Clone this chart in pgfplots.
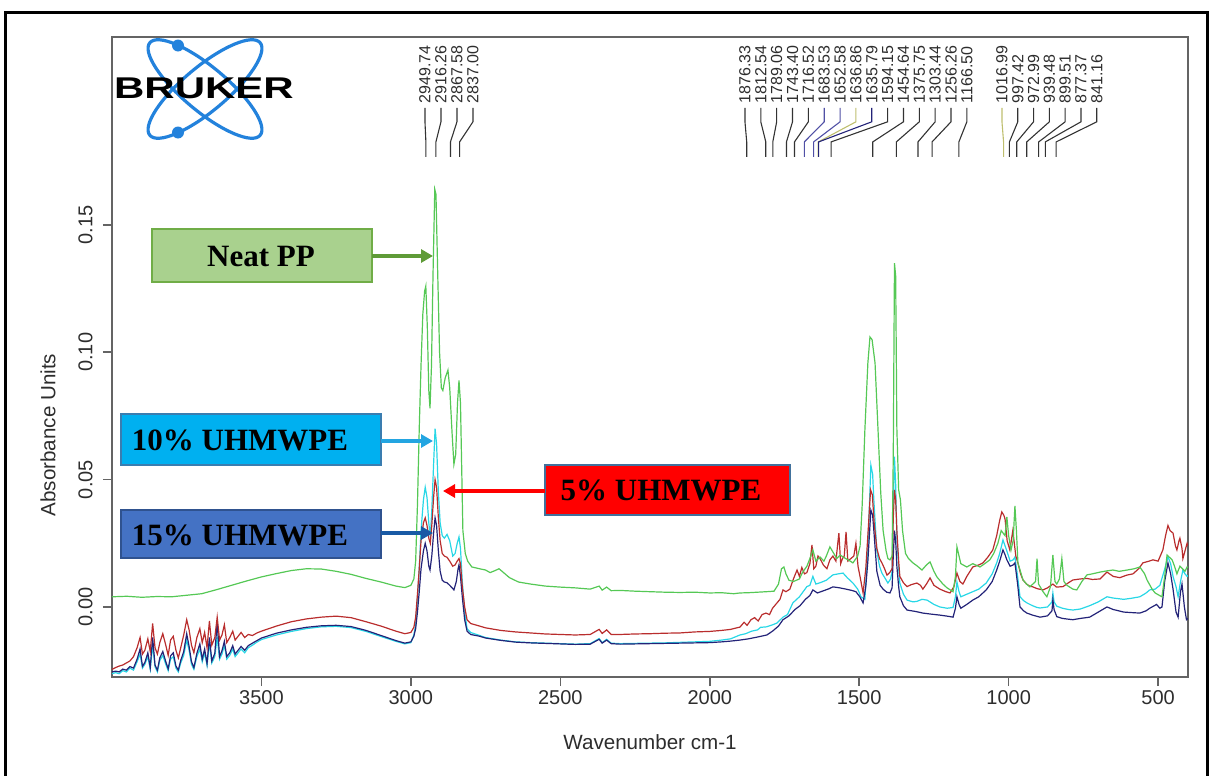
\documentclass[border=0pt]{standalone}
\usepackage{pgfplots}
\pgfplotsset{compat=1.18}
\usepackage{pgfplotstable}
\usetikzlibrary{arrows.meta}
\usepackage{fontspec}
\setmainfont{Liberation Sans}
\newfontfamily\serifbf{Liberation Serif}
\definecolor{cgreen}{RGB}{85,200,85}
\definecolor{cred}{RGB}{185,45,45}
\definecolor{ccyan}{RGB}{40,215,230}
\definecolor{cnavy}{RGB}{35,35,120}
\definecolor{axgray}{RGB}{100,100,100}
\definecolor{txtgray}{RGB}{45,45,45}
\definecolor{pkblue}{RGB}{80,80,165}
\definecolor{pkolive}{RGB}{190,190,110}
\definecolor{ppfill}{HTML}{A9D18E}
\definecolor{ppdraw}{HTML}{70AD47}
\definecolor{pparrow}{RGB}{95,155,55}
\definecolor{tenfill}{HTML}{00B0F0}
\definecolor{tendraw}{HTML}{3A7DB0}
\definecolor{tenarrow}{RGB}{35,165,225}
\definecolor{fiffill}{HTML}{4472C4}
\definecolor{fifdraw}{HTML}{2F528F}
\definecolor{fifarrow}{RGB}{25,90,165}
\definecolor{fivedraw}{HTML}{41719C}
\definecolor{logoblue}{RGB}{35,130,220}

\pgfplotstableread{
w a
4000 -0.0245
3988 -0.0238
3976 -0.0232
3964 -0.0228
3952 -0.0220
3940 -0.0212
3928 -0.0195
3916 -0.0160
3906 -0.0120
3898 -0.0185
3890 -0.0170
3880 -0.0125
3872 -0.0175
3864 -0.0065
3856 -0.0160
3848 -0.0185
3840 -0.0140
3830 -0.0105
3820 -0.0150
3812 -0.0190
3804 -0.0130
3795 -0.0115
3786 -0.0170
3778 -0.0200
3770 -0.0160
3760 -0.0110
3750 -0.0050
3742 -0.0090
3734 -0.0150
3726 -0.0180
3716 -0.0120
3706 -0.0085
3698 -0.0140
3690 -0.0100
3682 -0.0160
3674 -0.0055
3666 -0.0150
3656 -0.0120
3648 -0.0040
3640 -0.0130
3632 -0.0110
3624 -0.0070
3616 -0.0140
3606 -0.0120
3596 -0.0095
3588 -0.0130
3578 -0.0115
3568 -0.0100
3556 -0.0120
3544 -0.0108
3530 -0.0112
3515 -0.0102
3500 -0.0095
3450 -0.0075
3400 -0.0058
3350 -0.0047
3300 -0.0040
3250 -0.0036
3200 -0.0042
3150 -0.0058
3100 -0.0075
3050 -0.0095
3020 -0.0105
3000 -0.0100
2990 -0.0080
2984 -0.0040
2978 0.0050
2972 0.0150
2966 0.0260
2958 0.0330
2952 0.0350
2946 0.0320
2940 0.0270
2935 0.0250
2930 0.0320
2924 0.0430
2919 0.0500
2914 0.0470
2908 0.0350
2902 0.0260
2895 0.0210
2888 0.0200
2879 0.0195
2870 0.0180
2860 0.0160
2852 0.0165
2845 0.0180
2839 0.0190
2834 0.0170
2828 0.0080
2820 0.0000
2812 -0.0050
2800 -0.0065
2770 -0.0075
2750 -0.0082
2720 -0.0088
2700 -0.0092
2650 -0.0098
2600 -0.0102
2550 -0.0106
2500 -0.0108
2450 -0.0110
2400 -0.0108
2370 -0.0088
2360 -0.0104
2345 -0.0090
2330 -0.0108
2300 -0.0108
2250 -0.0106
2200 -0.0105
2150 -0.0103
2100 -0.0102
2050 -0.0098
2000 -0.0096
1960 -0.0092
1930 -0.0088
1910 -0.0082
1899 -0.0079
1885 -0.0060
1875 -0.0072
1862 -0.0050
1850 -0.0042
1838 -0.0055
1825 -0.0030
1812 -0.0024
1800 -0.0030
1790 -0.0005
1775 0.0016
1765 0.0030
1755 0.0067
1745 0.0060
1732 0.0070
1720 0.0110
1708 0.0145
1700 0.0120
1692 0.0155
1683 0.0130
1675 0.0135
1665 0.0170
1658 0.0244
1652 0.0150
1645 0.0160
1638 0.0200
1631 0.0190
1620 0.0165
1608 0.0150
1598 0.0185
1588 0.0200
1578 0.0180
1568 0.0290
1562 0.0170
1556 0.0190
1550 0.0200
1544 0.0295
1538 0.0180
1528 0.0190
1518 0.0200
1511 0.0250
1504 0.0160
1497 0.0118
1487 0.0055
1478 0.0150
1470 0.0300
1462 0.0460
1456 0.0440
1450 0.0330
1441 0.0230
1432 0.0190
1424 0.0173
1415 0.0150
1407 0.0125
1398 0.0135
1390 0.0150
1386 0.0350
1382 0.0460
1378 0.0420
1374 0.0300
1368 0.0180
1364 0.0120
1352 0.0095
1340 0.0080
1325 0.0088
1307 0.0094
1295 0.0085
1287 0.0070
1275 0.0090
1263 0.0114
1250 0.0085
1230 0.0070
1210 0.0060
1196 0.0055
1183 0.0080
1173 0.0133
1163 0.0100
1153 0.0090
1140 0.0120
1120 0.0157
1100 0.0165
1086 0.0173
1070 0.0195
1053 0.0224
1040 0.0280
1030 0.0340
1023 0.0373
1016 0.0360
1012 0.0345
1005 0.0260
996 0.0224
986 0.0300
976 0.0200
969 0.0173
960 0.0130
952 0.0106
940 0.0090
930 0.0082
919 0.0079
905 0.0072
885 0.0067
870 0.0075
852 0.0090
840 0.0078
818 0.0080
800 0.0095
785 0.0106
760 0.0110
738 0.0112
720 0.0108
694 0.0110
671 0.0137
650 0.0120
628 0.0115
605 0.0125
584 0.0130
565 0.0150
551 0.0173
530 0.0180
517 0.0185
500 0.0180
484 0.0224
475 0.0280
467 0.0320
460 0.0300
450 0.0290
442 0.0240
437 0.0224
430 0.0260
427 0.0270
420 0.0230
417 0.0190
410 0.0220
403 0.0250
400 0.0240
}\tabred

\pgfplotstableread{
w a
4000 -0.0262
3988 -0.0258
3976 -0.0262
3964 -0.0250
3952 -0.0255
3940 -0.0240
3928 -0.0248
3916 -0.0215
3906 -0.0185
3898 -0.0240
3890 -0.0225
3880 -0.0195
3872 -0.0245
3864 -0.0150
3856 -0.0235
3848 -0.0255
3840 -0.0210
3830 -0.0190
3820 -0.0225
3812 -0.0250
3804 -0.0205
3795 -0.0195
3786 -0.0240
3778 -0.0255
3770 -0.0220
3760 -0.0190
3750 -0.0130
3742 -0.0170
3734 -0.0225
3726 -0.0245
3716 -0.0195
3706 -0.0165
3698 -0.0215
3690 -0.0180
3682 -0.0230
3674 -0.0140
3666 -0.0220
3656 -0.0195
3648 -0.0120
3640 -0.0205
3632 -0.0185
3624 -0.0150
3616 -0.0205
3606 -0.0190
3596 -0.0165
3588 -0.0195
3578 -0.0180
3568 -0.0165
3556 -0.0180
3544 -0.0160
3530 -0.0150
3515 -0.0138
3500 -0.0128
3450 -0.0110
3400 -0.0096
3350 -0.0085
3300 -0.0078
3250 -0.0076
3200 -0.0081
3150 -0.0096
3100 -0.0116
3050 -0.0135
3020 -0.0145
3000 -0.0140
2990 -0.0110
2984 -0.0070
2978 0.0030
2972 0.0150
2966 0.0300
2958 0.0420
2952 0.0470
2946 0.0430
2940 0.0330
2935 0.0275
2930 0.0380
2924 0.0560
2919 0.0700
2914 0.0640
2908 0.0450
2902 0.0330
2895 0.0280
2888 0.0270
2879 0.0285
2870 0.0260
2860 0.0200
2852 0.0210
2845 0.0250
2839 0.0275
2834 0.0230
2828 0.0100
2820 -0.0020
2812 -0.0085
2800 -0.0100
2770 -0.0112
2750 -0.0120
2700 -0.0130
2650 -0.0137
2600 -0.0140
2550 -0.0142
2500 -0.0144
2450 -0.0146
2400 -0.0144
2370 -0.0124
2360 -0.0140
2345 -0.0127
2330 -0.0142
2300 -0.0144
2250 -0.0143
2200 -0.0142
2150 -0.0141
2100 -0.0139
2050 -0.0137
2000 -0.0135
1960 -0.0130
1930 -0.0125
1899 -0.0110
1880 -0.0105
1860 -0.0095
1840 -0.0090
1830 -0.0080
1810 -0.0078
1790 -0.0070
1775 -0.0063
1755 -0.0040
1740 -0.0030
1722 0.0016
1700 0.0040
1675 0.0080
1665 0.0085
1655 0.0120
1645 0.0090
1631 0.0095
1610 0.0105
1588 0.0126
1570 0.0130
1554 0.0133
1540 0.0115
1521 0.0094
1505 0.0070
1494 0.0040
1481 0.0030
1471 0.0230
1461 0.0557
1455 0.0520
1451 0.0420
1441 0.0220
1432 0.0160
1424 0.0133
1412 0.0110
1404 0.0094
1395 0.0110
1390 0.0140
1386 0.0400
1382 0.0590
1378 0.0480
1374 0.0280
1368 0.0150
1364 0.0094
1352 0.0050
1340 0.0027
1320 0.0020
1307 0.0022
1290 0.0030
1273 0.0027
1250 0.0010
1230 0.0000
1206 -0.0005
1186 -0.0002
1178 0.0040
1173 0.0098
1166 0.0060
1160 0.0040
1140 0.0050
1120 0.0060
1100 0.0070
1075 0.0094
1055 0.0130
1040 0.0173
1030 0.0210
1019 0.0263
1012 0.0240
1006 0.0220
995 0.0180
985 0.0185
979 0.0196
970 0.0120
962 0.0040
950 0.0025
939 0.0016
920 0.0005
905 -0.0002
895 -0.0004
870 0.0000
855 0.0020
852 0.0055
848 0.0020
839 0.0003
820 -0.0005
800 -0.0010
785 -0.0012
760 -0.0008
729 0.0005
700 0.0020
671 0.0040
650 0.0035
615 0.0030
590 0.0034
561 0.0040
540 0.0055
528 0.0067
510 0.0070
494 0.0085
480 0.0140
467 0.0197
458 0.0170
450 0.0120
440 0.0080
433 0.0040
425 0.0100
417 0.0145
410 0.0130
403 0.0120
400 0.0125
}\tabcyan

\pgfplotstableread{
w a
4000 -0.0255
3988 -0.0252
3976 -0.0255
3964 -0.0244
3952 -0.0248
3940 -0.0234
3928 -0.0240
3916 -0.0205
3906 -0.0165
3898 -0.0233
3890 -0.0218
3880 -0.0180
3872 -0.0238
3864 -0.0120
3856 -0.0228
3848 -0.0248
3840 -0.0200
3830 -0.0175
3820 -0.0215
3812 -0.0243
3804 -0.0192
3795 -0.0180
3786 -0.0232
3778 -0.0248
3770 -0.0210
3760 -0.0175
3750 -0.0105
3742 -0.0155
3734 -0.0215
3726 -0.0238
3716 -0.0182
3706 -0.0145
3698 -0.0205
3690 -0.0165
3682 -0.0222
3674 -0.0120
3666 -0.0212
3656 -0.0182
3648 -0.0060
3640 -0.0195
3632 -0.0172
3624 -0.0135
3616 -0.0195
3606 -0.0180
3596 -0.0152
3588 -0.0185
3578 -0.0170
3568 -0.0155
3556 -0.0170
3544 -0.0152
3530 -0.0142
3515 -0.0132
3500 -0.0122
3450 -0.0103
3400 -0.0090
3350 -0.0080
3300 -0.0074
3250 -0.0072
3200 -0.0077
3150 -0.0092
3100 -0.0112
3050 -0.0132
3020 -0.0142
3000 -0.0137
2990 -0.0115
2984 -0.0085
2978 -0.0020
2972 0.0060
2966 0.0150
2958 0.0220
2952 0.0250
2946 0.0220
2940 0.0160
2936 0.0145
2930 0.0200
2924 0.0290
2919 0.0350
2914 0.0320
2908 0.0220
2902 0.0140
2895 0.0105
2888 0.0098
2879 0.0095
2870 0.0085
2862 0.0075
2856 0.0067
2848 0.0100
2842 0.0150
2839 0.0165
2834 0.0120
2828 0.0040
2820 -0.0050
2812 -0.0095
2800 -0.0108
2770 -0.0115
2750 -0.0122
2700 -0.0131
2650 -0.0138
2600 -0.0141
2550 -0.0143
2500 -0.0145
2450 -0.0147
2400 -0.0146
2370 -0.0127
2360 -0.0142
2345 -0.0130
2330 -0.0144
2300 -0.0146
2250 -0.0145
2200 -0.0144
2150 -0.0143
2100 -0.0142
2050 -0.0141
2000 -0.0140
1960 -0.0137
1930 -0.0134
1899 -0.0130
1870 -0.0125
1840 -0.0118
1809 -0.0110
1790 -0.0095
1770 -0.0075
1755 -0.0050
1735 -0.0035
1715 -0.0010
1698 0.0005
1680 0.0030
1665 0.0045
1655 0.0067
1640 0.0055
1621 0.0063
1600 0.0072
1588 0.0079
1565 0.0075
1544 0.0070
1525 0.0065
1511 0.0060
1498 0.0040
1487 0.0016
1478 0.0080
1471 0.0180
1461 0.0380
1455 0.0360
1451 0.0300
1441 0.0140
1430 0.0085
1420 0.0070
1408 0.0058
1397 0.0055
1390 0.0075
1386 0.0200
1382 0.0300
1378 0.0260
1374 0.0160
1368 0.0080
1364 0.0040
1352 0.0005
1340 -0.0012
1310 -0.0018
1287 -0.0024
1260 -0.0028
1230 -0.0032
1206 -0.0036
1186 -0.0040
1178 -0.0005
1173 0.0040
1166 0.0010
1160 -0.0005
1140 0.0010
1120 0.0027
1100 0.0040
1075 0.0067
1055 0.0100
1040 0.0145
1030 0.0180
1019 0.0224
1012 0.0205
1006 0.0185
995 0.0160
985 0.0165
979 0.0173
970 0.0090
962 0.0000
950 -0.0015
939 -0.0024
920 -0.0032
895 -0.0040
870 -0.0035
855 -0.0015
852 0.0028
848 -0.0010
839 -0.0038
820 -0.0045
800 -0.0048
785 -0.0050
760 -0.0045
729 -0.0040
700 -0.0020
671 0.0000
650 -0.0010
615 -0.0020
590 -0.0022
561 -0.0024
540 -0.0015
528 -0.0005
505 0.0010
494 -0.0005
487 0.0000
478 0.0100
467 0.0173
458 0.0130
450 0.0070
440 -0.0020
433 -0.0040
425 0.0060
420 0.0090
412 0.0000
405 -0.0050
400 -0.0045
}\tabnavy

\pgfplotstableread{
w a
4000 0.0040
3950 0.0042
3900 0.0038
3850 0.0041
3800 0.0040
3750 0.0046
3700 0.0052
3650 0.0068
3600 0.0085
3550 0.0102
3500 0.0118
3450 0.0131
3400 0.0143
3350 0.0150
3300 0.0149
3250 0.0140
3200 0.0128
3150 0.0112
3100 0.0098
3050 0.0082
3020 0.0076
3000 0.0085
2990 0.0110
2984 0.0180
2978 0.0400
2972 0.0700
2966 0.0950
2960 0.1150
2954 0.1240
2950 0.1260
2945 0.1100
2940 0.0850
2936 0.0780
2931 0.0950
2926 0.1300
2920 0.1640
2916 0.1620
2910 0.1300
2904 0.1000
2898 0.0860
2893 0.0850
2885 0.0900
2876 0.0930
2870 0.0860
2862 0.0680
2856 0.0560
2850 0.0600
2844 0.0800
2839 0.0890
2834 0.0800
2830 0.0550
2826 0.0300
2818 0.0210
2810 0.0180
2796 0.0157
2770 0.0150
2750 0.0145
2735 0.0135
2720 0.0142
2705 0.0150
2690 0.0135
2670 0.0115
2640 0.0098
2600 0.0090
2550 0.0082
2500 0.0078
2450 0.0075
2400 0.0070
2370 0.0082
2360 0.0066
2345 0.0078
2330 0.0064
2300 0.0065
2250 0.0062
2200 0.0060
2150 0.0058
2100 0.0057
2050 0.0058
2000 0.0055
1960 0.0056
1920 0.0052
1899 0.0055
1870 0.0056
1840 0.0058
1810 0.0060
1785 0.0062
1770 0.0090
1760 0.0150
1752 0.0157
1745 0.0130
1735 0.0105
1720 0.0100
1700 0.0110
1690 0.0135
1675 0.0160
1665 0.0190
1655 0.0224
1645 0.0180
1631 0.0196
1618 0.0180
1610 0.0200
1598 0.0236
1585 0.0210
1575 0.0190
1564 0.0204
1545 0.0190
1530 0.0180
1521 0.0173
1505 0.0200
1497 0.0240
1490 0.0400
1481 0.0695
1471 0.0958
1464 0.1060
1457 0.1050
1447 0.0958
1437 0.0695
1428 0.0450
1420 0.0300
1410 0.0220
1404 0.0190
1397 0.0185
1390 0.0200
1386 0.0600
1382 0.1350
1378 0.1300
1374 0.0700
1368 0.0460
1362 0.0420
1355 0.0300
1345 0.0210
1335 0.0190
1320 0.0173
1305 0.0160
1290 0.0145
1275 0.0165
1263 0.0177
1250 0.0140
1240 0.0118
1220 0.0090
1206 0.0075
1186 0.0060
1178 0.0120
1173 0.0236
1166 0.0200
1160 0.0170
1140 0.0157
1120 0.0170
1096 0.0157
1080 0.0170
1063 0.0185
1050 0.0210
1036 0.0250
1025 0.0300
1012 0.0280
1006 0.0354
1000 0.0280
992 0.0224
985 0.0260
979 0.0397
974 0.0300
969 0.0173
952 0.0106
940 0.0090
929 0.0079
910 0.0100
905 0.0190
900 0.0090
885 0.0060
872 0.0040
860 0.0080
852 0.0204
845 0.0100
839 0.0090
830 0.0110
822 0.0190
815 0.0100
805 0.0085
785 0.0070
772 0.0067
755 0.0100
738 0.0126
720 0.0130
694 0.0137
670 0.0142
651 0.0145
630 0.0140
604 0.0145
580 0.0150
561 0.0157
545 0.0130
537 0.0106
520 0.0070
510 0.0055
495 0.0045
487 0.0040
478 0.0120
470 0.0204
462 0.0195
453 0.0185
445 0.0160
437 0.0130
427 0.0160
418 0.0150
410 0.0140
403 0.0157
400 0.0155
}\tabgreen

\newcommand\ticksize{\fontsize{10}{12}\selectfont}
\newcommand\labsize{\fontsize{10.3}{12}\selectfont}
\newcommand\pkfont{\fontsize{8}{8}\selectfont}
\newcommand\boxfont{\serifbf\bfseries\fontsize{15.5}{17}\selectfont}
% peak marker: label position, peak position, text, line colour
\newcommand\pk[4]{%
  \addplot[draw=#4, line width=0.55pt] coordinates {(#1,0.1960) (#1,0.1905) (#2,0.1826) (#2,0.1767)};
  \node[rotate=90, anchor=west, inner sep=0pt, font=\pkfont, text=txtgray] at (axis cs:#1,0.1976) {#3};%
}

\begin{document}
\begin{tikzpicture}
\useasboundingbox (0,0) rectangle (606pt,-388pt);
\begin{axis}[
  at={(56pt,-338.5pt)}, anchor=south west,
  scale only axis, width=538pt, height=320pt,
  x dir=reverse, xmin=400, xmax=4000,
  ymin=-0.0275, ymax=0.2238,
  xtick={500,1000,1500,2000,2500,3000,3500},
  ytick={0,0.05,0.10,0.15},
  tick pos=left, tick align=outside, major tick length=4.5pt,
  axis line style={draw=axgray, line width=1pt},
  tick style={draw=axgray, line width=0.8pt},
  /pgf/number format/assume math mode=true,
  xticklabel style={/pgf/number format/1000 sep={}, inner sep=0pt, font=\ticksize, text=txtgray},
  yticklabel style={/pgf/number format/fixed, /pgf/number format/fixed zerofill, /pgf/number format/precision=2, rotate=90, anchor=south, inner sep=0pt, font=\ticksize, text=txtgray},
  xticklabel shift=2pt, yticklabel shift=5pt,
  xlabel={Wavenumber cm-1}, ylabel={Absorbance Units},
  xlabel style={at={(axis description cs:0.5,-0.1016)}, anchor=center, font=\labsize, text=txtgray},
  ylabel style={at={(axis description cs:-0.0595,0.378)}, anchor=center, font=\labsize, text=txtgray},
]
\addplot[draw=ccyan, line width=0.6pt] table[x=w, y=a] {\tabcyan};
\addplot[draw=cnavy, line width=0.6pt] table[x=w, y=a] {\tabnavy};
\addplot[draw=cred, line width=0.6pt] table[x=w, y=a] {\tabred};
\addplot[draw=cgreen, line width=0.6pt] table[x=w, y=a] {\tabgreen};
% peak labels
\pk{2952.8}{2949.74}{2949.74}{black!80}
\pk{2899.3}{2916.26}{2916.26}{black!80}
\pk{2845.8}{2867.58}{2867.58}{black!80}
\pk{2792.3}{2837.00}{2837.00}{black!80}
\pk{1882.2}{1876.33}{1876.33}{black!80}
\pk{1829.2}{1812.54}{1812.54}{black!80}
\pk{1776.1}{1789.06}{1789.06}{black!80}
\pk{1723.1}{1743.40}{1743.40}{black!80}
\pk{1670.1}{1716.52}{1716.52}{black!80}
\pk{1617.1}{1683.53}{1683.53}{pkblue}
\pk{1564.0}{1652.58}{1652.58}{pkblue}
\pk{1511.0}{1636.86}{1636.86}{pkolive}
\pk{1458.0}{1635.79}{1635.79}{cnavy}
\pk{1404.9}{1594.15}{1594.15}{black!80}
\pk{1351.9}{1454.64}{1454.64}{black!80}
\pk{1298.9}{1375.75}{1375.75}{black!80}
\pk{1245.8}{1303.44}{1303.44}{black!80}
\pk{1192.8}{1256.26}{1256.26}{black!80}
\pk{1139.8}{1166.50}{1166.50}{black!80}
\pk{1022.3}{1016.99}{1016.99}{pkolive}
\pk{969.4}{997.42}{997.42}{black!80}
\pk{916.6}{972.99}{972.99}{black!80}
\pk{863.7}{939.48}{939.48}{black!80}
\pk{810.9}{899.51}{899.51}{black!80}
\pk{758.0}{877.37}{877.37}{black!80}
\pk{705.2}{841.16}{841.16}{black!80}
\end{axis}
\begin{scope}[x=0.5pt, y=-0.5pt]
  % outer frame
  \draw[line width=1.5pt, black] (5,12) rectangle (1207,800);
  % logo
  \draw[logoblue, line width=1.6pt, rotate around={40:(205,89)}] (205,89) ellipse (72 and 22);
  \draw[logoblue, line width=1.6pt, rotate around={-40:(205,89)}] (205,89) ellipse (72 and 22);
  \fill[logoblue] (178,45.5) circle (6);
  \fill[logoblue] (178,132.5) circle (6);
  \node[font=\bfseries\fontsize{15}{15}\selectfont, xscale=1.4, inner sep=0pt] at (204,88) {BRUKER};
  % annotation boxes
  \filldraw[fill=ppfill, draw=ppdraw, line width=1pt] (152,229) rectangle (372,282);
  \node[font=\boxfont] at (261,256) {Neat PP};
  \draw[pparrow, line width=1.6pt, -{Triangle[length=6pt,width=6.5pt]}] (372,256) -- (433,256);
  \filldraw[fill=tenfill, draw=tendraw, line width=0.8pt] (121,414) rectangle (381,465);
  \node[font=\boxfont] at (240,440) {10\% UHMWPE};
  \draw[tenarrow, line width=1.6pt, -{Triangle[length=6pt,width=6.5pt]}] (381,441) -- (433,441);
  \filldraw[fill=fiffill, draw=fifdraw, line width=0.8pt] (121,510) rectangle (381,558);
  \node[font=\boxfont] at (240,535) {15\% UHMWPE};
  \draw[fifarrow, line width=1.6pt, -{Triangle[length=6pt,width=6.5pt]}] (381,533) -- (433,533);
  \filldraw[fill=red, draw=fivedraw, line width=0.8pt] (545,465) rectangle (790,515);
  \node[font=\boxfont] at (661,490) {5\% UHMWPE};
  \draw[red, line width=1.6pt, -{Triangle[length=6pt,width=6.5pt]}] (545,491) -- (443,491);
\end{scope}
\end{tikzpicture}
\end{document}
